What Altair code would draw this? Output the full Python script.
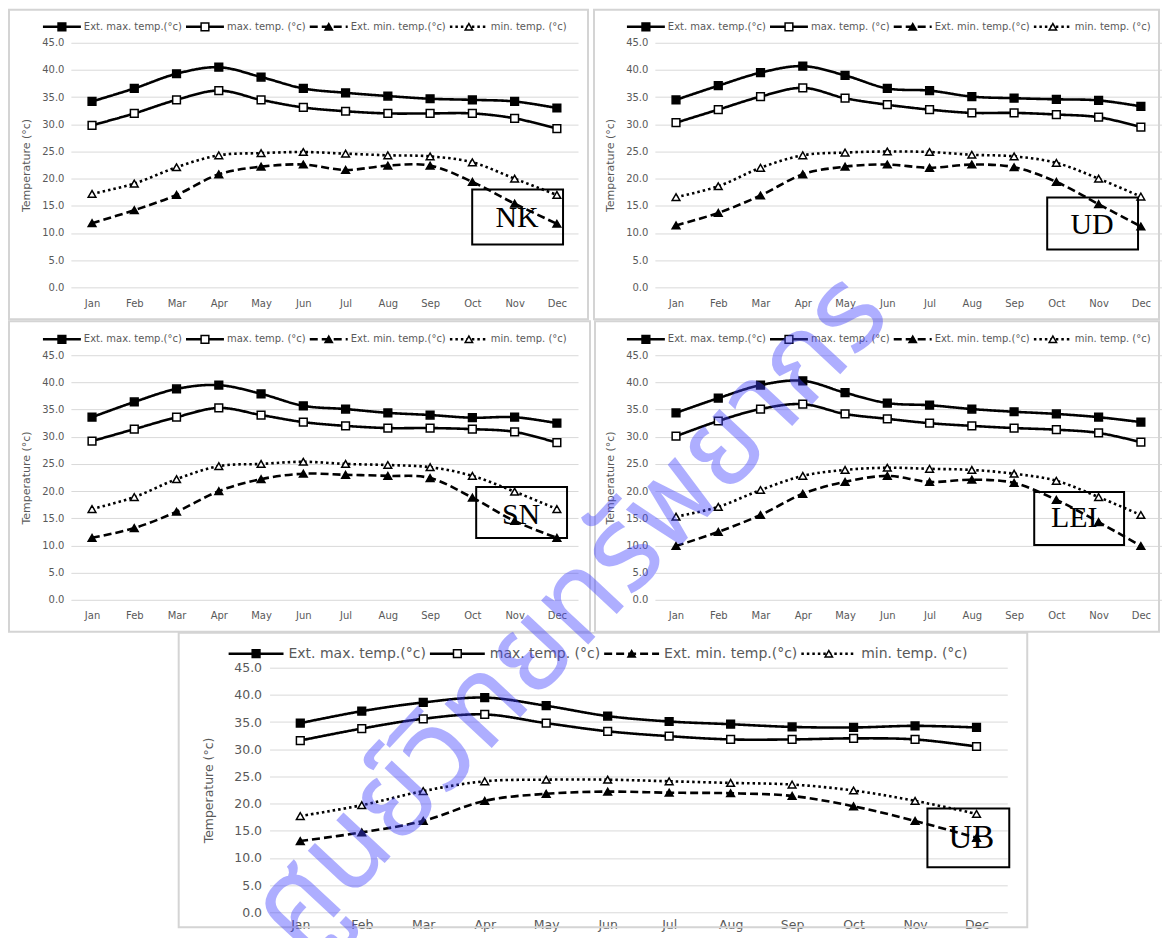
import altair as alt
import pandas as pd

MONTHS = ["Jan", "Feb", "Mar", "Apr", "May", "Jun", "Jul", "Aug", "Sep", "Oct", "Nov", "Dec"]
SERIES = ["Ext. max. temp.(°c)", "max. temp. (°c)", "Ext. min. temp.(°c)", "min. temp. (°c)"]
Y_TICKS = [0, 5, 10, 15, 20, 25, 30, 35, 40, 45]

NK_EXT_MAX = [34.2, 36.6, 39.3, 40.5, 38.7, 36.6, 35.8, 35.2, 34.7, 34.5, 34.2, 33.0]
NK_MAX = [29.8, 32.0, 34.5, 36.2, 34.5, 33.1, 32.4, 32.0, 32.0, 32.0, 31.1, 29.2]
NK_EXT_MIN = [11.8, 14.2, 17.0, 20.8, 22.2, 22.6, 21.6, 22.4, 22.4, 19.4, 15.4, 11.7]
NK_MIN = [17.2, 19.1, 22.1, 24.3, 24.7, 24.9, 24.6, 24.3, 24.1, 23.0, 20.0, 17.0]

UD_EXT_MAX = [34.5, 37.1, 39.5, 40.7, 39.0, 36.6, 36.2, 35.1, 34.8, 34.6, 34.4, 33.3]
UD_MAX = [30.3, 32.7, 35.1, 36.7, 34.8, 33.6, 32.7, 32.1, 32.1, 31.8, 31.3, 29.5]
UD_EXT_MIN = [11.4, 13.7, 16.9, 20.8, 22.2, 22.6, 22.0, 22.6, 22.1, 19.4, 15.3, 11.2]
UD_MIN = [16.6, 18.6, 22.0, 24.3, 24.8, 25.0, 24.9, 24.4, 24.1, 22.9, 20.0, 16.7]

SN_EXT_MAX = [33.6, 36.4, 38.8, 39.5, 37.9, 35.7, 35.1, 34.4, 34.0, 33.5, 33.6, 32.5]
SN_MAX = [29.2, 31.4, 33.6, 35.3, 34.0, 32.7, 32.0, 31.6, 31.6, 31.4, 30.9, 28.9]
SN_EXT_MIN = [11.4, 13.2, 16.2, 20.0, 22.2, 23.2, 23.0, 22.8, 22.4, 18.8, 14.5, 11.4]
SN_MIN = [16.7, 18.9, 22.2, 24.6, 25.0, 25.4, 25.0, 24.8, 24.4, 22.8, 19.9, 16.7]

LEI_EXT_MAX = [34.4, 37.1, 39.5, 40.3, 38.1, 36.2, 35.8, 35.1, 34.6, 34.2, 33.6, 32.7]
LEI_MAX = [30.1, 32.9, 35.1, 36.0, 34.2, 33.3, 32.5, 32.0, 31.6, 31.3, 30.7, 29.0]
LEI_EXT_MIN = [9.9, 12.5, 15.6, 19.5, 21.7, 22.8, 21.7, 22.1, 21.5, 18.4, 14.3, 9.9]
LEI_MIN = [15.3, 17.1, 20.2, 22.8, 23.9, 24.3, 24.1, 23.9, 23.2, 21.9, 18.9, 15.6]

UB_EXT_MAX = [34.8, 37.0, 38.6, 39.5, 38.0, 36.1, 35.1, 34.6, 34.1, 34.0, 34.3, 34.0]
UB_MAX = [31.6, 33.8, 35.6, 36.4, 34.8, 33.3, 32.4, 31.8, 31.8, 32.0, 31.8, 30.5]
UB_EXT_MIN = [13.1, 14.7, 16.8, 20.5, 21.8, 22.2, 22.0, 21.9, 21.4, 19.5, 16.8, 13.7]
UB_MIN = [17.7, 19.7, 22.3, 24.1, 24.4, 24.4, 24.1, 23.8, 23.5, 22.4, 20.5, 18.1]

WATERMARK = "ศูนย์วิทยทรัพยากร"

# ---- styles / layout constants ----
DASHES = [[1, 0], [1, 0], [8, 4], [2.5, 3]]
SHAPES = ["square", "square", "triangle-up", "triangle-up"]
FILLS = ["black", "white", "black", "white"]
SIZES = [60, 60, 55, 55]
GRAY = "#595959"
FONT = "DejaVu Sans"

# approximate DejaVu Sans advance widths (em) used to lay the legend out as a flow
_EM = {"E": .632, "x": .592, "t": .392, ".": .318, " ": .318, "m": .974, "a": .613,
       "e": .615, "p": .635, "(": .390, "°": .500, "c": .550, ")": .390, "i": .278,
       "n": .634}


def text_width(s, size):
    return sum(_EM.get(ch, .6) for ch in s) * size


def legend_layout(start, y, size, seg_len, gap_after_seg, gap_after_text):
    segs, texts = [], []
    pos = start
    for s in SERIES:
        segs.append((pos, pos + seg_len))
        pos += seg_len + gap_after_seg
        texts.append(pos)
        pos += text_width(s, size) + gap_after_text
    return dict(y=y, seg=segs, text=texts, size=size)


UB_SHIFT = 199  # UB plot starts this far right of its cell origin
TOP_LEGEND = legend_layout(-28, -16, 10, 38, 3, 4)
UB_LEGEND = legend_layout(-41 + UB_SHIFT, -14, 14, 55, 5, 4)


def one_row():
    return pd.DataFrame({"k": [0]})


def panel(name, ext_max, tmax, ext_min, tmin, w, h, frame, box, label_xy, legend,
          big=False, x_range=None, y_offset=None, extra=None):
    df = pd.DataFrame({
        "month": MONTHS * 4,
        "series": [s for s in SERIES for _ in MONTHS],
        "value": ext_max + tmax + ext_min + tmin,
    })
    lab_fs = 12.5 if big else 10
    title_fs = 12.5 if big else 11
    xscale = alt.Scale(type="point", padding=0.5)
    if x_range is not None:
        xscale = alt.Scale(type="point", padding=0.5, range=x_range)
    x = alt.X("month:N", sort=MONTHS, scale=xscale,
              axis=alt.Axis(title=None, labelAngle=0, domain=False, ticks=False, grid=False,
                            labelColor=GRAY, labelFont=FONT, labelFontSize=lab_fs,
                            labelPadding=6 if big else 11))
    yaxis_kw = dict(values=Y_TICKS, format=".1f", title="Temperature (°c)",
                    domain=False, ticks=False, grid=True, gridColor="#d9d9d9",
                    gridWidth=1, labelColor=GRAY, labelFont=FONT,
                    labelFontSize=lab_fs, labelPadding=8 if big else 7,
                    titleFont=FONT, titleFontSize=title_fs, titleFontWeight="normal",
                    titleColor=GRAY, titlePadding=18 if big else 10)
    if y_offset is not None:
        yaxis_kw["offset"] = y_offset
    y = alt.Y("value:Q", scale=alt.Scale(domain=[0, 45], nice=False, zero=True),
              axis=alt.Axis(**yaxis_kw))
    base = alt.Chart(df)

    fx1, fx2, fy1, fy2 = frame
    frame_layer = alt.Chart(one_row()).mark_rect(
        fillOpacity=0, stroke="#d4d4d4", strokeWidth=2
    ).encode(x=alt.value(fx1), x2=alt.value(fx2), y=alt.value(fy1), y2=alt.value(fy2))

    lines = base.mark_line(color="black", strokeWidth=2.6, interpolate="cardinal").encode(
        x=x, y=y,
        strokeDash=alt.StrokeDash("series:N", scale=alt.Scale(domain=SERIES, range=DASHES),
                                  legend=None),
        detail="series:N",
    )
    points = base.mark_point(filled=True, stroke="black", strokeWidth=1.5, opacity=1).encode(
        x=x, y=y,
        shape=alt.Shape("series:N", scale=alt.Scale(domain=SERIES, range=SHAPES), legend=None),
        fill=alt.Fill("series:N", scale=alt.Scale(domain=SERIES, range=FILLS), legend=None),
        size=alt.Size("series:N", scale=alt.Scale(domain=SERIES, range=SIZES), legend=None),
    )

    layers = [frame_layer, lines, points]

    # legend (Excel style: line with marker, then label)
    ly = legend["y"]
    for i, s in enumerate(SERIES):
        a, b = legend["seg"][i]
        layers.append(alt.Chart(one_row()).mark_rule(
            color="black", strokeWidth=2.6, strokeDash=DASHES[i]
        ).encode(x=alt.value(a), x2=alt.value(b), y=alt.value(ly)))
        layers.append(alt.Chart(one_row()).mark_point(
            filled=True, shape=SHAPES[i], fill=FILLS[i], stroke="black", strokeWidth=1.5,
            size=SIZES[i], opacity=1
        ).encode(x=alt.value((a + b) / 2), y=alt.value(ly)))
        layers.append(alt.Chart(one_row()).mark_text(
            text=s, align="left", baseline="middle", font=FONT, fontSize=legend["size"],
            color=GRAY
        ).encode(x=alt.value(legend["text"][i]), y=alt.value(ly)))

    bx1, bx2, by1, by2 = box
    layers.append(alt.Chart(one_row()).mark_rect(
        fillOpacity=0, stroke="black", strokeWidth=2
    ).encode(x=alt.value(bx1), x2=alt.value(bx2), y=alt.value(by1), y2=alt.value(by2)))
    layers.append(alt.Chart(one_row()).mark_text(
        text=name, font="Liberation Serif", fontSize=33 if big else 30, color="black",
        align="center", baseline="middle"
    ).encode(x=alt.value(label_xy[0]), y=alt.value(label_xy[1])))

    if extra is not None:
        layers.append(extra)

    return alt.layer(*layers).properties(width=w, height=h)


watermark = alt.Chart(one_row()).mark_text(
    text=WATERMARK, font="Noto Sans Thai, Loma, Garuda, Norasi, sans-serif", fontSize=118,
    color="#4040ff", opacity=0.42, angle=313, align="center", baseline="middle"
).encode(x=alt.value(301 + UB_SHIFT), y=alt.value(-55))

W, H = 508, 245
nk = panel("NK", NK_EXT_MAX, NK_MAX, NK_EXT_MIN, NK_MIN, W, H,
           (-62, 518, -33, 277), (402, 493, 147, 202), (447, 176), TOP_LEGEND)
ud = panel("UD", UD_EXT_MAX, UD_MAX, UD_EXT_MIN, UD_MIN, W, H,
           (-61, 505, -33, 277), (393, 484, 155, 207), (438, 183), TOP_LEGEND)
sn = panel("SN", SN_EXT_MAX, SN_MAX, SN_EXT_MIN, SN_MIN, W, H,
           (-62, 520, -34, 277), (406, 497, 132, 183), (451, 160), TOP_LEGEND)
lei = panel("LEI", LEI_EXT_MAX, LEI_MAX, LEI_EXT_MIN, LEI_MIN, W, H,
            (-60, 505, -34, 277), (380, 470, 137, 190), (420, 163), TOP_LEGEND)
ub = panel("UB", UB_EXT_MAX, UB_MAX, UB_EXT_MIN, UB_MIN, W, H,
           (-91 + UB_SHIFT, 759 + UB_SHIFT, -35, 260),
           (659 + UB_SHIFT, 741 + UB_SHIFT, 141, 200), (703 + UB_SHIFT, 171), UB_LEGEND,
           big=True, x_range=[UB_SHIFT, UB_SHIFT + 739], y_offset=-UB_SHIFT, extra=watermark)

chart = alt.concat(
    nk, ud, sn, lei, ub,
    columns=2, spacing={"row": 68, "column": 77}, bounds="flush"
).configure(
    padding={"left": 0, "top": 0, "right": 0, "bottom": 0}
).configure_view(stroke=None)

chart.save("out.html", embed_options={"renderer": "svg", "actions": False})
